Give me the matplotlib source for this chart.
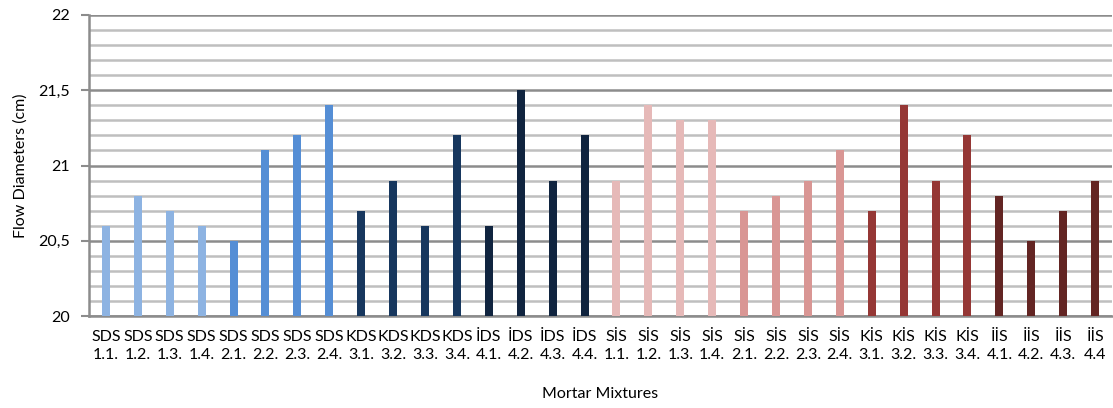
import matplotlib
matplotlib.use("Agg")
import matplotlib.pyplot as plt
from matplotlib.ticker import MultipleLocator, FuncFormatter

plt.rcParams['font.family'] = ['Lato', 'DejaVu Sans']

groups = ["SDS"] * 8 + ["KDS"] * 4 + ["İDS"] * 4 + ["SİS"] * 8 + ["KİS"] * 4 + ["İİS"] * 4
codes = ["1.1.", "1.2.", "1.3.", "1.4.", "2.1.", "2.2.", "2.3.", "2.4.",
         "3.1.", "3.2.", "3.3.", "3.4.", "4.1.", "4.2.", "4.3.", "4.4.",
         "1.1.", "1.2.", "1.3.", "1.4.", "2.1.", "2.2.", "2.3.", "2.4.",
         "3.1.", "3.2.", "3.3.", "3.4.", "4.1.", "4.2.", "4.3.", "4.4"]
diameters = [20.6, 20.8, 20.7, 20.6, 20.5, 21.1, 21.2, 21.4,
             20.7, 20.9, 20.6, 21.2, 20.6, 21.5, 20.9, 21.2,
             20.9, 21.4, 21.3, 21.3, 20.7, 20.8, 20.9, 21.1,
             20.7, 21.4, 20.9, 21.2, 20.8, 20.5, 20.7, 20.9]
palette = (["#8DB3E2"] * 4 + ["#558ED5"] * 4 + ["#17375E"] * 4 + ["#10243F"] * 4 +
           ["#E6B9B8"] * 4 + ["#D99694"] * 4 + ["#953735"] * 4 + ["#632523"] * 4)

fig = plt.figure(figsize=(11.13, 4.08), dpi=100)
ax = fig.add_axes([89 / 1113, 1 - 316 / 408, (1112 - 89) / 1113, (316 - 15) / 408])

base = 20
x = list(range(len(diameters)))
ax.bar(x, [d - base for d in diameters], bottom=base, width=0.25, color=palette, zorder=3)

ax.set_ylim(20, 22)
ax.set_xlim(-0.53, len(diameters) - 0.47)

ax.yaxis.set_major_locator(MultipleLocator(0.5))
ax.yaxis.set_minor_locator(MultipleLocator(0.1))
ax.yaxis.set_major_formatter(FuncFormatter(lambda v, p: f"{v:g}".replace(".", ",")))
ax.grid(axis="y", which="minor", color="#BFBFBF", linewidth=1.8, zorder=0)
ax.grid(axis="y", which="major", color="#8C8C8C", linewidth=1.8, zorder=1)

ax.set_xticks(x)
ax.set_xticklabels([f"{g}\n{c}" for g, c in zip(groups, codes)], fontsize=11.5,
                   linespacing=1.35)
ax.tick_params(axis="x", length=0, pad=10)
ax.tick_params(axis="y", which="major", length=6, width=1.5, color="#8C8C8C",
               labelsize=11.5, pad=8)
ax.tick_params(axis="y", which="minor", length=0)

for s in ["top", "right"]:
    ax.spines[s].set_visible(False)
ax.spines["left"].set_color("#8C8C8C")
ax.spines["left"].set_linewidth(1.8)
ax.spines["bottom"].set_color("#8C8C8C")
ax.spines["bottom"].set_linewidth(1.8)

ax.set_ylabel("Flow Diameters (cm)", fontsize=11.5, labelpad=7)
ax.set_xlabel("Mortar Mixtures", fontsize=11.5, labelpad=18)

fig.savefig("out.png", dpi=100)
